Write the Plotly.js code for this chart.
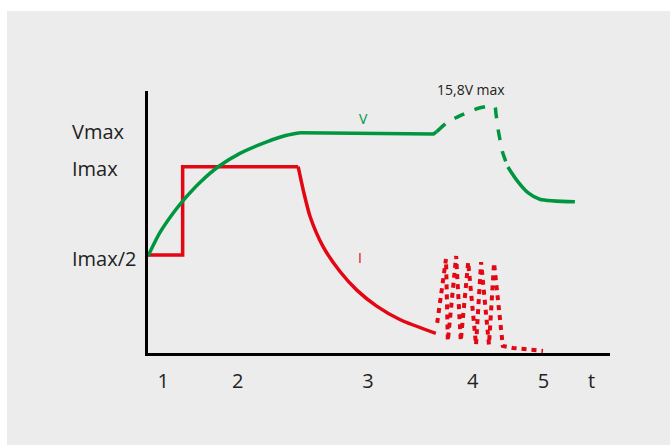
<!DOCTYPE html>
<html>
<head>
<meta charset="utf-8">
<script src="https://cdn.plot.ly/plotly-3.0.1.min.js"></script>
<style>
  html, body { margin: 0; padding: 0; background: #ffffff; width: 670px; height: 445px; overflow: hidden; }
  #chart { position: absolute; left: 7px; top: 11px; width: 663px; height: 434px; }
</style>
</head>
<body>
<div id="chart"></div>
<script>
// ---- data (time t and level, arbitrary 0-100 units) ----
// Voltage V: rising part (solid)
const vRiseT = [0, 2.6, 5.5, 7.5, 11.3, 15.2, 19.9, 25.7, 30.0, 32.9];
const vRiseV = [37.0, 46.0, 53.5, 58.0, 65.2, 71.1, 76.2, 80.6, 83.1, 84.1];
// Voltage V: plateau (solid)
const vFlatT = [32.9, 61.8, 62.5];
const vFlatV = [84.1, 83.6, 84.5];
// Voltage V: boost to 15,8V max (dashed)
const vDashT = [62.5, 64.7, 66.5, 69.0, 71.5, 74.0, 75.1, 75.3, 75.8, 76.2, 76.8, 77.9];
const vDashV = [84.5, 87.9, 89.7, 91.7, 93.4, 94.3, 94.0, 91.6, 85.1, 81.3, 76.3, 71.0];
// Voltage V: float (solid)
const vTailT = [77.9, 79.8, 82.3, 84.8, 92.4];
const vTailV = [71.0, 66.0, 61.1, 58.7, 57.7];

// Current I: step Imax/2 -> Imax (solid)
const iStepT = [0, 7.5, 7.5, 32.5];
const iStepI = [37.4, 37.4, 71.1, 71.1];
// Current I: decay (solid)
const iDecayT = [32.5, 33.6, 35.1, 37.9, 41.6, 45.2, 49.5, 54.5, 62.3];
const iDecayI = [71.1, 62.2, 52.0, 40.6, 31.0, 24.0, 17.9, 12.8, 7.5];
// Current I: pulses (dotted)
const iPulseT = [62.6, 64.5, 64.9, 66.7, 67.7, 69.3, 71.0, 72.1, 73.8, 74.9, 76.8, 79.0, 85.5];
const iPulseI = [11.5, 35.9, 4.6, 37.0, 4.6, 34.7, 3.1, 34.7, 3.1, 34.4, 2.7, 1.9, 0.8];

// Axis labels
const xTickVals = [3.3, 19.4, 47.6, 70.3, 85.6, 96.0];
const xTickText = ['1', '2', '3', '4', '5', 't'];
const yLabelVals = [84.4, 70.6, 35.9];
const yLabelText = ['Vmax', 'Imax', 'Imax/2'];

const GREEN = '#009640';
const RED = '#e30613';
const FONT = 'Open Sans, sans-serif';

function tr(x, y, color, width, dash, shape, smoothing) {
  return {x: x, y: y, type: 'scatter', mode: 'lines', hoverinfo: 'skip',
    line: {color: color, width: width, dash: dash || 'solid', shape: shape || 'linear', smoothing: smoothing || 0.6}};
}

const data = [
  tr(iStepT, iStepI, RED, 3.5),
  tr(iDecayT, iDecayI, RED, 3.5, 'solid', 'spline', 0.7),
  tr(iPulseT, iPulseI, RED, 4, '5px,5px'),
  tr(vRiseT, vRiseV, GREEN, 3.5, 'solid', 'spline', 0.7),
  tr(vFlatT, vFlatV, GREEN, 3.5),
  tr(vDashT, vDashV, GREEN, 3.5, '11px,11px', 'spline', 0.6),
  tr(vTailT, vTailV, GREEN, 3.5, 'solid', 'spline', 0.7)
];

const annotations = [];
for (let k = 0; k < yLabelText.length; k++) {
  annotations.push({xref: 'paper', yref: 'y', x: -0.1688, y: yLabelVals[k], text: yLabelText[k],
    showarrow: false, xanchor: 'left', yanchor: 'middle', font: {family: FONT, size: 20, color: '#222222'}});
}
annotations.push({xref: 'x', yref: 'y', x: 46.6, y: 89.5, text: 'V', showarrow: false,
  xanchor: 'center', yanchor: 'middle', font: {family: FONT, size: 14, color: GREEN}});
annotations.push({xref: 'x', yref: 'y', x: 45.9, y: 36.4, text: 'I', showarrow: false,
  xanchor: 'center', yanchor: 'middle', font: {family: FONT, size: 14, color: RED}});
annotations.push({xref: 'x', yref: 'paper', x: 69.9, y: 1.0076, text: '15,8V max', showarrow: false,
  xanchor: 'center', yanchor: 'middle', font: {family: FONT, size: 14, color: '#222222'}});

const layout = {
  width: 663, height: 434,
  margin: {l: 141, r: 60, t: 80, b: 92, pad: 0},
  paper_bgcolor: '#ececec', plot_bgcolor: 'rgba(0,0,0,0)',
  showlegend: false,
  hovermode: false,
  font: {family: FONT, color: '#222222'},
  xaxis: {range: [0, 100], showline: true, linecolor: '#000000', linewidth: 3, showgrid: false, zeroline: false,
    ticks: '', tickmode: 'array', tickvals: xTickVals, ticktext: xTickText,
    tickfont: {family: FONT, size: 20, color: '#222222'}, ticklabelstandoff: 8, fixedrange: true},
  yaxis: {range: [0, 100], showline: true, linecolor: '#000000', linewidth: 3, showgrid: false, zeroline: false,
    showticklabels: false, ticks: '', fixedrange: true},
  annotations: annotations
};

Plotly.newPlot('chart', data, layout, {staticPlot: true, displayModeBar: false});
</script>
</body>
</html>
